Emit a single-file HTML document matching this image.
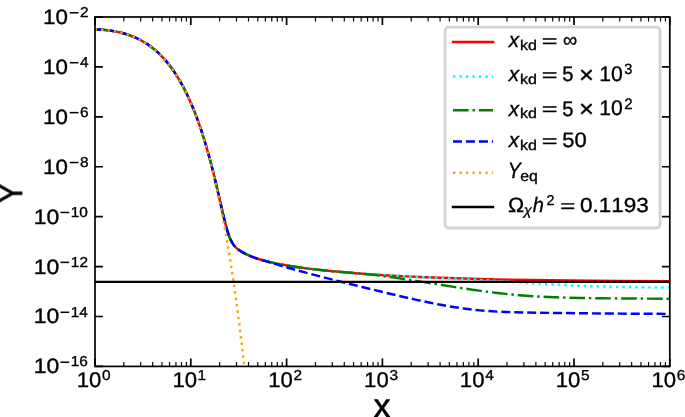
<!DOCTYPE html>
<html><head><meta charset="utf-8"><title>Y vs x</title>
<style>html,body{margin:0;padding:0;background:#fff;width:685px;height:417px;overflow:hidden}
svg text{will-change:transform;text-rendering:geometricPrecision;stroke:#000;stroke-width:0.35px;stroke-linejoin:round;font-family:"Liberation Sans",sans-serif;font-kerning:none}</style></head>
<body>
<svg width="685" height="417" viewBox="0 0 685 417" font-family='"Liberation Sans", sans-serif' style="display:block">
<defs><clipPath id="ax"><rect x="95.0" y="17.0" width="574.8" height="349.4"/></clipPath></defs>
<rect width="685" height="417" fill="#fff"/>
<g clip-path="url(#ax)">
<path d="M 95.00,29.37 98.45,29.51 101.52,29.71 104.97,30.01 108.04,30.35 111.11,30.77 114.18,31.28 117.25,31.87 119.93,32.47 122.62,33.14 125.30,33.90 127.99,34.76 130.67,35.70 133.36,36.75 135.66,37.74 138.35,39.00 140.65,40.18 142.95,41.45 145.25,42.83 147.55,44.31 149.85,45.91 152.15,47.63 154.07,49.16 156.37,51.12 158.29,52.86 160.59,55.09 162.51,57.06 164.43,59.15 166.35,61.36 168.27,63.69 170.18,66.15 172.10,68.75 174.02,71.50 175.94,74.39 177.47,76.82 179.39,80.00 180.92,82.67 182.84,86.16 184.38,89.09 186.29,92.93 187.83,96.14 189.36,99.49 191.40,104.13 193.00,107.92 194.55,111.76 196.15,115.89 197.71,120.08 200.81,128.97 203.21,136.36 205.61,144.20 207.96,152.34 210.31,160.93 212.82,170.60 215.32,180.79 217.77,191.23 222.67,212.64 224.92,221.96 226.23,226.90 227.43,231.05 228.58,234.58 229.73,237.66 230.43,239.30 231.17,240.86 231.93,242.28 232.68,243.52 233.53,244.76 234.38,245.84 235.28,246.86 236.28,247.85 237.38,248.81 238.58,249.74 239.94,250.68 241.44,251.63 243.09,252.58 244.89,253.53 246.79,254.47 248.79,255.38 253.05,257.11 257.64,258.72 262.63,260.24 268.00,261.66 273.75,262.98 280.27,264.30 287.18,265.53 294.85,266.73 303.67,267.97 312.88,269.12 322.85,270.24 333.21,271.28 344.33,272.29 355.84,273.23 368.12,274.13 380.77,274.95 393.05,275.67 406.09,276.35 419.52,276.97 433.33,277.53 447.90,278.06 463.25,278.54 478.97,278.98 495.85,279.38 531.52,280.05 571.80,280.59 617.45,281.01 670.00,281.33" stroke="#ff0000" stroke-width="2.45" fill="none" stroke-linejoin="round"/>
<path d="M 95.00,29.37 98.45,29.51 101.52,29.71 104.97,30.01 108.04,30.35 111.11,30.77 114.18,31.28 117.25,31.87 119.93,32.47 122.62,33.14 125.30,33.90 127.99,34.76 130.67,35.70 133.36,36.75 135.66,37.74 138.35,39.00 140.65,40.18 142.95,41.45 145.25,42.83 147.55,44.31 149.85,45.91 152.15,47.63 154.07,49.16 156.37,51.12 158.29,52.86 160.59,55.09 162.51,57.06 164.43,59.15 166.35,61.36 168.27,63.69 170.18,66.15 172.10,68.75 174.02,71.50 175.94,74.39 177.47,76.82 179.39,80.00 180.92,82.67 182.84,86.16 184.38,89.09 186.29,92.93 187.83,96.14 189.36,99.49 191.40,104.13 193.00,107.92 194.55,111.76 196.15,115.89 197.71,120.08 200.81,128.97 203.26,136.52 205.66,144.37 208.01,152.51 210.36,161.12 212.82,170.60 215.32,180.79 217.77,191.23 222.67,212.64 224.87,221.76 226.18,226.72 227.38,230.89 228.53,234.44 229.68,237.53 230.38,239.19 231.08,240.67 231.83,242.10 232.58,243.36 233.38,244.55 234.23,245.66 235.13,246.70 236.08,247.66 237.13,248.60 238.33,249.55 239.61,250.46 241.04,251.38 242.64,252.33 244.34,253.25 246.19,254.18 248.14,255.09 251.84,256.64 255.80,258.10 260.00,259.47 264.55,260.77 269.53,262.03 274.90,263.23 280.66,264.37 286.79,265.46 293.70,266.56 300.99,267.61 309.04,268.66 317.48,269.65 326.30,270.60 335.89,271.54 345.87,272.42 356.22,273.26 365.81,273.97 375.79,274.64 396.88,275.88 415.68,276.82 456.72,278.70 477.44,279.78 495.08,280.85 540.73,283.80 554.92,284.61 568.73,285.30 579.47,285.76 590.60,286.16 601.72,286.50 613.61,286.81 639.31,287.27 670.00,287.61" stroke="#00ffff" stroke-width="2.45" fill="none" stroke-dasharray="2.441 4.028" stroke-dashoffset="0.365"/>
<path d="M 95.00,29.37 98.45,29.51 101.90,29.74 105.36,30.05 108.43,30.40 111.49,30.83 114.56,31.35 117.63,31.95 120.32,32.56 123.00,33.25 125.69,34.02 128.37,34.88 131.06,35.85 133.74,36.91 136.04,37.91 138.73,39.19 141.03,40.38 143.33,41.67 145.63,43.07 147.94,44.57 150.24,46.19 152.54,47.93 154.46,49.48 156.76,51.46 158.68,53.22 160.98,55.47 162.90,57.47 164.81,59.58 166.73,61.81 168.65,64.17 170.57,66.66 172.48,69.29 174.40,72.06 176.32,74.99 177.86,77.44 179.77,80.66 181.31,83.35 183.23,86.89 184.76,89.85 186.68,93.72 188.21,96.97 189.75,100.35 191.75,104.94 194.80,112.39 196.35,116.42 197.91,120.63 200.96,129.42 203.36,136.84 205.76,144.71 208.11,152.87 210.46,161.48 212.92,171.00 215.37,181.00 217.77,191.23 222.67,212.64 224.87,221.76 226.13,226.54 227.33,230.72 228.48,234.29 229.58,237.28 230.23,238.85 230.93,240.37 231.63,241.74 232.38,243.04 233.13,244.20 233.93,245.29 234.78,246.31 235.73,247.32 236.73,248.25 237.83,249.17 239.04,250.06 240.34,250.94 241.84,251.86 243.44,252.77 246.99,254.56 249.04,255.49 251.19,256.39 255.75,258.09 260.71,259.68 266.08,261.17 271.83,262.56 278.36,263.93 285.64,265.27 293.32,266.50 299.84,267.45 307.12,268.42 314.80,269.35 322.85,270.24 331.67,271.14 341.26,272.03 364.66,273.93 372.72,274.79 381.92,275.92 394.58,277.64 408.78,279.74 422.59,281.89 455.19,287.11 472.07,289.67 480.89,290.91 489.33,292.03 497.38,293.00 505.44,293.89 512.34,294.57 519.25,295.19 526.15,295.73 533.06,296.20 540.35,296.63 547.64,296.99 555.31,297.31 563.36,297.58 580.24,297.98 601.34,298.28 630.49,298.53 670.00,298.75" stroke="#008000" stroke-width="2.45" fill="none" stroke-dasharray="15.622 3.906 2.441 3.906" stroke-dashoffset="0.365"/>
<path d="M 95.00,29.37 98.45,29.51 101.90,29.74 105.36,30.05 108.43,30.40 111.49,30.83 114.56,31.35 117.63,31.95 120.32,32.56 123.00,33.25 125.69,34.02 128.37,34.88 131.06,35.85 133.74,36.91 136.04,37.91 138.73,39.19 141.03,40.38 143.33,41.67 145.63,43.07 147.94,44.57 150.24,46.19 152.54,47.93 154.46,49.48 156.76,51.46 158.68,53.22 160.98,55.47 162.90,57.47 164.81,59.58 166.73,61.81 168.65,64.17 170.57,66.66 172.48,69.29 174.40,72.06 176.32,74.99 177.86,77.44 179.77,80.66 181.31,83.35 183.23,86.89 184.76,89.85 186.68,93.72 188.21,96.97 189.75,100.35 191.75,104.94 194.80,112.39 196.35,116.42 197.91,120.63 200.96,129.42 203.36,136.84 205.76,144.71 208.16,153.03 210.51,161.69 212.97,171.20 215.42,181.21 217.82,191.45 222.62,212.42 224.82,221.56 226.08,226.35 227.23,230.39 228.38,234.00 229.48,237.03 230.79,240.08 231.48,241.45 232.18,242.71 232.93,243.90 233.68,244.96 234.48,245.96 235.33,246.91 236.23,247.80 237.23,248.68 238.33,249.55 239.54,250.41 240.89,251.29 242.34,252.15 245.59,253.88 248.19,255.11 250.94,256.28 253.85,257.41 256.90,258.48 261.09,259.80 265.70,261.07 274.14,263.70 281.81,266.00 293.32,269.27 306.74,272.91 322.85,277.12 341.26,281.81 363.13,287.25 383.84,292.29 401.49,296.45 416.45,299.83 429.11,302.52 440.61,304.79 451.35,306.68 461.33,308.22 467.46,309.04 473.60,309.76 479.74,310.39 485.88,310.91 492.01,311.33 498.54,311.70 505.44,311.99 513.50,312.25 524.24,312.50 538.05,312.74 577.56,313.24 620.52,313.62 670.00,313.91" stroke="#0000ff" stroke-width="2.45" fill="none" stroke-dasharray="9.032 3.906" stroke-dashoffset="0.365"/>
<path d="M 95.00,29.37 99.75,29.59 103.97,29.91 108.19,30.37 111.88,30.89 115.58,31.54 119.27,32.31 122.96,33.24 126.66,34.32 130.35,35.58 133.52,36.82 136.68,38.20 139.85,39.76 143.02,41.49 145.65,43.08 148.82,45.18 151.46,47.10 154.62,49.62 157.26,51.91 159.90,54.40 162.54,57.09 165.18,59.99 167.81,63.13 170.45,66.51 172.56,69.40 175.20,73.26 177.31,76.56 179.95,80.96 182.06,84.72 184.17,88.70 186.28,92.90 188.39,97.36 190.50,102.06 192.61,107.04 194.72,112.30 196.83,117.86 198.94,123.73 200.86,129.36 202.76,135.21 204.66,141.35 206.51,147.59 208.35,154.14 210.19,161.00 211.97,167.95 213.76,175.23 215.54,182.84 217.27,190.54 219.00,198.58 220.67,206.69 222.34,215.14 224.01,223.95 225.62,232.81 227.23,242.03 228.84,251.63 230.40,261.26 233.45,281.26 236.44,302.40 239.38,324.69 242.26,348.17 245.02,372.32" stroke="#ffa500" stroke-width="2.45" fill="none" stroke-dasharray="2.441 4.028" stroke-dashoffset="0.365"/>
<path d="M 95.0,281.85 L 669.8,281.85" stroke="#000" stroke-width="2.45" fill="none"/>
</g>
<g>
<path d="M95.00,366.4 v-7.9 M95.00,17.0 v7.9" stroke="#000" stroke-width="1.7"/>
<path d="M123.84,366.4 v-4.5 M123.84,17.0 v4.5" stroke="#000" stroke-width="1.15"/>
<path d="M140.71,366.4 v-4.5 M140.71,17.0 v4.5" stroke="#000" stroke-width="1.15"/>
<path d="M152.68,366.4 v-4.5 M152.68,17.0 v4.5" stroke="#000" stroke-width="1.15"/>
<path d="M161.96,366.4 v-4.5 M161.96,17.0 v4.5" stroke="#000" stroke-width="1.15"/>
<path d="M169.55,366.4 v-4.5 M169.55,17.0 v4.5" stroke="#000" stroke-width="1.15"/>
<path d="M175.96,366.4 v-4.5 M175.96,17.0 v4.5" stroke="#000" stroke-width="1.15"/>
<path d="M181.52,366.4 v-4.5 M181.52,17.0 v4.5" stroke="#000" stroke-width="1.15"/>
<path d="M186.42,366.4 v-4.5 M186.42,17.0 v4.5" stroke="#000" stroke-width="1.15"/>
<path d="M190.80,366.4 v-7.9 M190.80,17.0 v7.9" stroke="#000" stroke-width="1.7"/>
<path d="M219.64,366.4 v-4.5 M219.64,17.0 v4.5" stroke="#000" stroke-width="1.15"/>
<path d="M236.51,366.4 v-4.5 M236.51,17.0 v4.5" stroke="#000" stroke-width="1.15"/>
<path d="M248.48,366.4 v-4.5 M248.48,17.0 v4.5" stroke="#000" stroke-width="1.15"/>
<path d="M257.76,366.4 v-4.5 M257.76,17.0 v4.5" stroke="#000" stroke-width="1.15"/>
<path d="M265.35,366.4 v-4.5 M265.35,17.0 v4.5" stroke="#000" stroke-width="1.15"/>
<path d="M271.76,366.4 v-4.5 M271.76,17.0 v4.5" stroke="#000" stroke-width="1.15"/>
<path d="M277.32,366.4 v-4.5 M277.32,17.0 v4.5" stroke="#000" stroke-width="1.15"/>
<path d="M282.22,366.4 v-4.5 M282.22,17.0 v4.5" stroke="#000" stroke-width="1.15"/>
<path d="M286.60,366.4 v-7.9 M286.60,17.0 v7.9" stroke="#000" stroke-width="1.7"/>
<path d="M315.44,366.4 v-4.5 M315.44,17.0 v4.5" stroke="#000" stroke-width="1.15"/>
<path d="M332.31,366.4 v-4.5 M332.31,17.0 v4.5" stroke="#000" stroke-width="1.15"/>
<path d="M344.28,366.4 v-4.5 M344.28,17.0 v4.5" stroke="#000" stroke-width="1.15"/>
<path d="M353.56,366.4 v-4.5 M353.56,17.0 v4.5" stroke="#000" stroke-width="1.15"/>
<path d="M361.15,366.4 v-4.5 M361.15,17.0 v4.5" stroke="#000" stroke-width="1.15"/>
<path d="M367.56,366.4 v-4.5 M367.56,17.0 v4.5" stroke="#000" stroke-width="1.15"/>
<path d="M373.12,366.4 v-4.5 M373.12,17.0 v4.5" stroke="#000" stroke-width="1.15"/>
<path d="M378.02,366.4 v-4.5 M378.02,17.0 v4.5" stroke="#000" stroke-width="1.15"/>
<path d="M382.40,366.4 v-7.9 M382.40,17.0 v7.9" stroke="#000" stroke-width="1.7"/>
<path d="M411.24,366.4 v-4.5 M411.24,17.0 v4.5" stroke="#000" stroke-width="1.15"/>
<path d="M428.11,366.4 v-4.5 M428.11,17.0 v4.5" stroke="#000" stroke-width="1.15"/>
<path d="M440.08,366.4 v-4.5 M440.08,17.0 v4.5" stroke="#000" stroke-width="1.15"/>
<path d="M449.36,366.4 v-4.5 M449.36,17.0 v4.5" stroke="#000" stroke-width="1.15"/>
<path d="M456.95,366.4 v-4.5 M456.95,17.0 v4.5" stroke="#000" stroke-width="1.15"/>
<path d="M463.36,366.4 v-4.5 M463.36,17.0 v4.5" stroke="#000" stroke-width="1.15"/>
<path d="M468.92,366.4 v-4.5 M468.92,17.0 v4.5" stroke="#000" stroke-width="1.15"/>
<path d="M473.82,366.4 v-4.5 M473.82,17.0 v4.5" stroke="#000" stroke-width="1.15"/>
<path d="M478.20,366.4 v-7.9 M478.20,17.0 v7.9" stroke="#000" stroke-width="1.7"/>
<path d="M507.04,366.4 v-4.5 M507.04,17.0 v4.5" stroke="#000" stroke-width="1.15"/>
<path d="M523.91,366.4 v-4.5 M523.91,17.0 v4.5" stroke="#000" stroke-width="1.15"/>
<path d="M535.88,366.4 v-4.5 M535.88,17.0 v4.5" stroke="#000" stroke-width="1.15"/>
<path d="M545.16,366.4 v-4.5 M545.16,17.0 v4.5" stroke="#000" stroke-width="1.15"/>
<path d="M552.75,366.4 v-4.5 M552.75,17.0 v4.5" stroke="#000" stroke-width="1.15"/>
<path d="M559.16,366.4 v-4.5 M559.16,17.0 v4.5" stroke="#000" stroke-width="1.15"/>
<path d="M564.72,366.4 v-4.5 M564.72,17.0 v4.5" stroke="#000" stroke-width="1.15"/>
<path d="M569.62,366.4 v-4.5 M569.62,17.0 v4.5" stroke="#000" stroke-width="1.15"/>
<path d="M574.00,366.4 v-7.9 M574.00,17.0 v7.9" stroke="#000" stroke-width="1.7"/>
<path d="M602.84,366.4 v-4.5 M602.84,17.0 v4.5" stroke="#000" stroke-width="1.15"/>
<path d="M619.71,366.4 v-4.5 M619.71,17.0 v4.5" stroke="#000" stroke-width="1.15"/>
<path d="M631.68,366.4 v-4.5 M631.68,17.0 v4.5" stroke="#000" stroke-width="1.15"/>
<path d="M640.96,366.4 v-4.5 M640.96,17.0 v4.5" stroke="#000" stroke-width="1.15"/>
<path d="M648.55,366.4 v-4.5 M648.55,17.0 v4.5" stroke="#000" stroke-width="1.15"/>
<path d="M654.96,366.4 v-4.5 M654.96,17.0 v4.5" stroke="#000" stroke-width="1.15"/>
<path d="M660.52,366.4 v-4.5 M660.52,17.0 v4.5" stroke="#000" stroke-width="1.15"/>
<path d="M665.42,366.4 v-4.5 M665.42,17.0 v4.5" stroke="#000" stroke-width="1.15"/>
<path d="M669.80,366.4 v-7.9 M669.80,17.0 v7.9" stroke="#000" stroke-width="1.7"/>
<path d="M95.0,366.40 h7.9 M669.8,366.40 h-7.9" stroke="#000" stroke-width="1.7"/>
<path d="M95.0,316.49 h7.9 M669.8,316.49 h-7.9" stroke="#000" stroke-width="1.7"/>
<path d="M95.0,266.57 h7.9 M669.8,266.57 h-7.9" stroke="#000" stroke-width="1.7"/>
<path d="M95.0,216.66 h7.9 M669.8,216.66 h-7.9" stroke="#000" stroke-width="1.7"/>
<path d="M95.0,166.74 h7.9 M669.8,166.74 h-7.9" stroke="#000" stroke-width="1.7"/>
<path d="M95.0,116.83 h7.9 M669.8,116.83 h-7.9" stroke="#000" stroke-width="1.7"/>
<path d="M95.0,66.91 h7.9 M669.8,66.91 h-7.9" stroke="#000" stroke-width="1.7"/>
<path d="M95.0,17.00 h7.9 M669.8,17.00 h-7.9" stroke="#000" stroke-width="1.7"/>
<rect x="95.0" y="17.0" width="574.8" height="349.4" fill="none" stroke="#000" stroke-width="1.7"/>
</g>
<g fill="#000">
<text transform="translate(33.70,373.40) scale(1.1062,1)" font-size="20.76">10</text>
<rect x="60.50" y="361.45" width="8.70" height="1.5"/>
<text transform="translate(70.78,366.46) scale(1.0700,1)" font-size="14.41">16</text>
<text transform="translate(33.70,323.48) scale(1.1062,1)" font-size="20.76">10</text>
<rect x="60.50" y="311.54" width="8.70" height="1.5"/>
<text transform="translate(70.67,316.54) scale(1.0700,1)" font-size="14.41">14</text>
<text transform="translate(33.70,273.57) scale(1.1062,1)" font-size="20.76">10</text>
<rect x="60.50" y="261.62" width="8.70" height="1.5"/>
<text transform="translate(70.83,266.63) scale(1.0700,1)" font-size="14.41">12</text>
<text transform="translate(33.70,223.65) scale(1.1062,1)" font-size="20.76">10</text>
<rect x="60.50" y="211.71" width="8.70" height="1.5"/>
<text transform="translate(70.74,216.72) scale(1.0700,1)" font-size="14.41">10</text>
<text transform="translate(43.00,173.74) scale(1.0748,1)" font-size="20.76">10</text>
<rect x="69.80" y="161.79" width="8.70" height="1.5"/>
<text transform="translate(80.01,166.80) scale(1.0700,1)" font-size="14.41">8</text>
<text transform="translate(43.00,123.83) scale(1.0748,1)" font-size="20.76">10</text>
<rect x="69.80" y="111.88" width="8.70" height="1.5"/>
<text transform="translate(79.96,116.89) scale(1.0700,1)" font-size="14.41">6</text>
<text transform="translate(43.00,73.91) scale(1.0748,1)" font-size="20.76">10</text>
<rect x="69.80" y="61.96" width="8.70" height="1.5"/>
<text transform="translate(80.06,66.97) scale(1.0700,1)" font-size="14.41">4</text>
<text transform="translate(43.00,24.00) scale(1.0748,1)" font-size="20.76">10</text>
<rect x="69.80" y="12.05" width="8.70" height="1.5"/>
<text transform="translate(80.01,17.06) scale(1.0700,1)" font-size="14.41">2</text>
<text transform="translate(76.66,386.59) scale(1.0462,1)" font-size="21.19">10</text>
<text transform="translate(101.96,379.66) scale(1.0700,1)" font-size="14.41">0</text>
<text transform="translate(172.46,386.59) scale(1.0462,1)" font-size="21.19">10</text>
<text transform="translate(197.55,379.66) scale(1.0700,1)" font-size="14.41">1</text>
<text transform="translate(268.26,386.59) scale(1.0462,1)" font-size="21.19">10</text>
<text transform="translate(293.56,379.66) scale(1.0700,1)" font-size="14.41">2</text>
<text transform="translate(364.06,386.59) scale(1.0462,1)" font-size="21.19">10</text>
<text transform="translate(389.41,379.66) scale(1.0700,1)" font-size="14.41">3</text>
<text transform="translate(459.86,386.59) scale(1.0462,1)" font-size="21.19">10</text>
<text transform="translate(485.21,379.66) scale(1.0700,1)" font-size="14.41">4</text>
<text transform="translate(555.66,386.59) scale(1.0462,1)" font-size="21.19">10</text>
<text transform="translate(580.98,379.66) scale(1.0700,1)" font-size="14.41">5</text>
<text transform="translate(651.46,386.59) scale(1.0462,1)" font-size="21.19">10</text>
<text transform="translate(676.71,379.66) scale(1.0700,1)" font-size="14.41">6</text>
<text transform="translate(373.83,417.30) scale(1.0094,1)" font-size="32.75" style="stroke-width:0.7px">x</text>
<text transform="translate(21.9,202.41) rotate(-90) scale(0.8723,1)" font-size="31.83" style="stroke-width:0.8px">Y</text>
</g>
<g>
<rect x="445.1" y="27.2" width="214.90" height="200.80" rx="3.5" ry="3.5" fill="#fff" stroke="#d3d3d3" stroke-width="2.8"/>
<path d="M453.0,41.95 H493.0" stroke="#ff0000" stroke-width="2.45" stroke-linecap="square"/>
<path d="M453.0,76.4 H493.0" stroke="#00ffff" stroke-width="2.45" stroke-dasharray="2.441 4.028"/>
<path d="M453.0,110.3 H493.0" stroke="#008000" stroke-width="2.45" stroke-dasharray="15.622 3.906 2.441 3.906"/>
<path d="M453.0,141.5 H493.0" stroke="#0000ff" stroke-width="2.45" stroke-dasharray="9.032 3.906"/>
<path d="M453.0,172.8 H493.0" stroke="#ffa500" stroke-width="2.45" stroke-dasharray="2.441 4.028"/>
<path d="M453.0,206.9 H493.0" stroke="#000000" stroke-width="2.45" stroke-linecap="square"/>
</g>
<g fill="#000">
<text transform="translate(508.83,46.80) scale(0.9865,1)" font-size="21.01" font-style="italic">x</text>
<text transform="translate(520.02,49.56) scale(1.1199,1)" font-size="14.30">kd</text>
<text transform="translate(541.68,46.52) scale(1.4982,1)" font-size="18.00">=</text>
<text transform="translate(562.90,46.78) scale(0.9515,1)" font-size="21.01">∞</text>
<text transform="translate(508.83,81.40) scale(0.9865,1)" font-size="21.01" font-style="italic">x</text>
<text transform="translate(520.02,84.16) scale(1.1199,1)" font-size="14.30">kd</text>
<text transform="translate(541.68,81.12) scale(1.4982,1)" font-size="18.00">=</text>
<text transform="translate(562.19,81.29) scale(0.9546,1)" font-size="21.21">5</text>
<text transform="translate(579.03,83.06) scale(1.0567,1)" font-size="24.20">×</text>
<text transform="translate(599.29,81.19) scale(1.0056,1)" font-size="21.04">10</text>
<text transform="translate(624.35,74.26) scale(0.9813,1)" font-size="14.83">3</text>
<text transform="translate(508.83,115.70) scale(0.9865,1)" font-size="21.01" font-style="italic">x</text>
<text transform="translate(520.02,118.46) scale(1.1199,1)" font-size="14.30">kd</text>
<text transform="translate(541.68,115.42) scale(1.4982,1)" font-size="18.00">=</text>
<text transform="translate(562.19,115.59) scale(0.9546,1)" font-size="21.21">5</text>
<text transform="translate(579.03,117.36) scale(1.0567,1)" font-size="24.20">×</text>
<text transform="translate(599.29,115.49) scale(1.0056,1)" font-size="21.04">10</text>
<text transform="translate(624.14,108.70) scale(1.0072,1)" font-size="15.04">2</text>
<text transform="translate(508.83,146.90) scale(0.9865,1)" font-size="21.01" font-style="italic">x</text>
<text transform="translate(520.02,149.66) scale(1.1199,1)" font-size="14.30">kd</text>
<text transform="translate(541.68,146.62) scale(1.4982,1)" font-size="18.00">=</text>
<text transform="translate(562.22,146.80) scale(1.0510,1)" font-size="20.90">50</text>
<text transform="translate(507.68,178.10) scale(0.8733,1)" font-size="22.24" font-style="italic">Y</text>
<text transform="translate(520.23,180.58) scale(1.0523,1)" font-size="15.02">eq</text>
<text transform="translate(507.88,212.10) scale(1.0546,1)" font-size="20.62">Ω</text>
<text transform="translate(523.86,215.26) scale(1.0249,1)" font-size="14.21" font-style="italic">χ</text>
<text transform="translate(532.77,212.10) scale(0.9560,1)" font-size="20.98" font-style="italic">h</text>
<text transform="translate(546.38,205.30) scale(1.0063,1)" font-size="14.18">2</text>
<text transform="translate(560.24,211.67) scale(1.4546,1)" font-size="17.69">=</text>
<text transform="translate(580.12,212.00) scale(1.1054,1)" font-size="20.34">0.1193</text>
</g>
</svg>
</body></html>
